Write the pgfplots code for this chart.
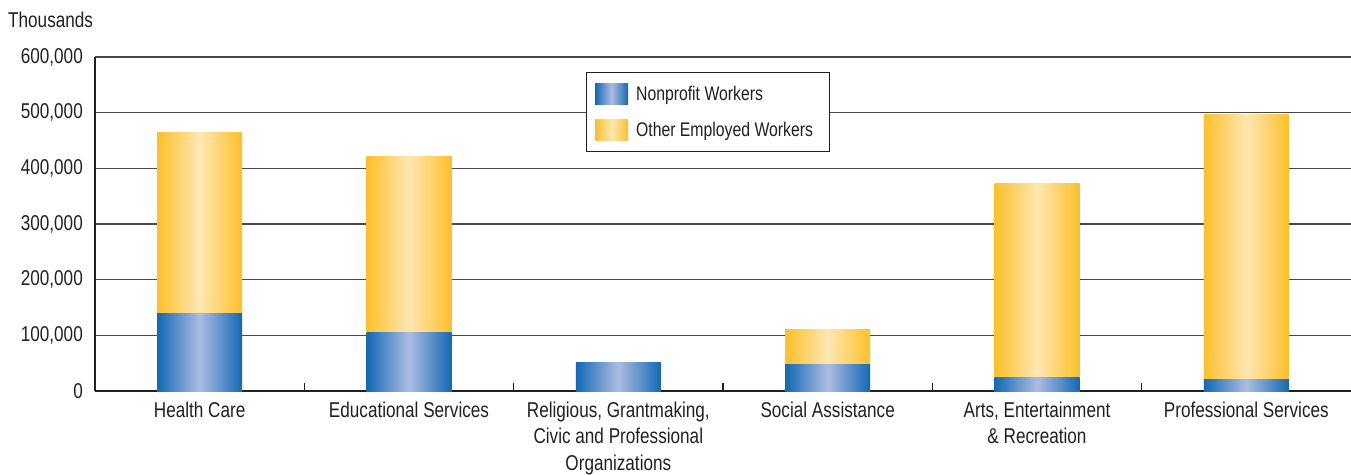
\documentclass[border=0pt]{standalone}
\usepackage{fontspec}
\setmainfont{Liberation Sans}[FakeStretch=0.8]
\usepackage{pgfplots}
\pgfplotsset{compat=1.18}
\definecolor{NpEdge}{RGB}{18,105,180}
\definecolor{NpMid}{RGB}{172,188,224}
\definecolor{OtEdge}{RGB}{253,192,42}
\definecolor{OtMid}{RGB}{254,231,178}
\definecolor{Txt}{RGB}{35,31,32}
\pgfplotsset{
  npfill/.style={left color=NpEdge, right color=NpEdge, middle color=NpMid},
  otfill/.style={left color=OtEdge, right color=OtEdge, middle color=OtMid},
  onebar/.style={ybar, bar width=85bp, bar shift=0pt, draw=none, forget plot},
}

\begin{document}
\begin{tikzpicture}
\begin{axis}[name=ax,
  scale only axis, width=1256bp, height=334bp,
  xmin=-0.5, xmax=5.5, ymin=0, ymax=600000,
  axis x line=bottom, axis y line=left,
  axis line style={-, line width=2.6bp, color=Txt},
  xtick={0,...,5},
  xticklabels={Health Care, Educational Services,
    {Religious, Grantmaking,\\Civic and Professional\\Organizations},
    Social Assistance, {Arts, Entertainment\\\& Recreation}, Professional Services},
  minor xtick={0.5,1.5,...,4.5},
  ytick={0,100000,...,600000},
  scaled y ticks=false,
  /pgf/number format/fixed,
  /pgf/number format/1000 sep={,},
  /pgf/number format/assume math mode=true,
  tick align=inside,
  major tick length=0pt, minor tick length=8bp,
  tick style={line width=1.3bp, color=Txt},
  ymajorgrids, grid style={line width=1.3bp, color=black!72},
  ticklabel style={font=\fontsize{21.5}{26.5}\selectfont, text=Txt},
  xticklabel style={align=center, anchor=north, inner sep=0pt, yshift=-10.5bp},
  yticklabel style={anchor=east, inner sep=0pt, xshift=-12bp},
  legend style={at={(0.391,0.955)}, anchor=north west, draw=Txt, line width=1bp,
    fill=white, font=\fontsize{19.8}{23}\selectfont, text=Txt,
    inner xsep=8.5bp, inner ysep=11bp, row sep=15bp,
    nodes={inner xsep=8bp, inner ysep=2bp}},
  legend cell align=left,
  legend image code/.code={\path[#1,draw=none] (0bp,-10.5bp) rectangle (33bp,10.5bp);},
]
\addlegendimage{npfill}
\addlegendentry{Nonprofit Workers}
\addlegendimage{otfill}
\addlegendentry{Other Employed Workers}
% other employed workers: bar drawn to the total, nonprofit part drawn over it
\addplot[onebar, otfill] coordinates {(0,465000)};
\addplot[onebar, otfill] coordinates {(1,422000)};
\addplot[onebar, otfill] coordinates {(3,110000)};
\addplot[onebar, otfill] coordinates {(4,373000)};
\addplot[onebar, otfill] coordinates {(5,496000)};
% nonprofit workers
\addplot[onebar, npfill] coordinates {(0,139000)};
\addplot[onebar, npfill] coordinates {(1,106000)};
\addplot[onebar, npfill] coordinates {(2,52000)};
\addplot[onebar, npfill] coordinates {(3,47000)};
\addplot[onebar, npfill] coordinates {(4,25000)};
\addplot[onebar, npfill] coordinates {(5,20000)};
\end{axis}
\node[anchor=base west, font=\fontsize{21.5}{24}\selectfont, text=Txt, inner sep=0pt]
  at ([shift={(-87bp,30bp)}]ax.north west) {Thousands};
\pgfresetboundingbox
\path ([shift={(-95bp,-83bp)}]ax.south west) rectangle ([shift={(0bp,57bp)}]ax.north east);
\end{tikzpicture}
\end{document}
